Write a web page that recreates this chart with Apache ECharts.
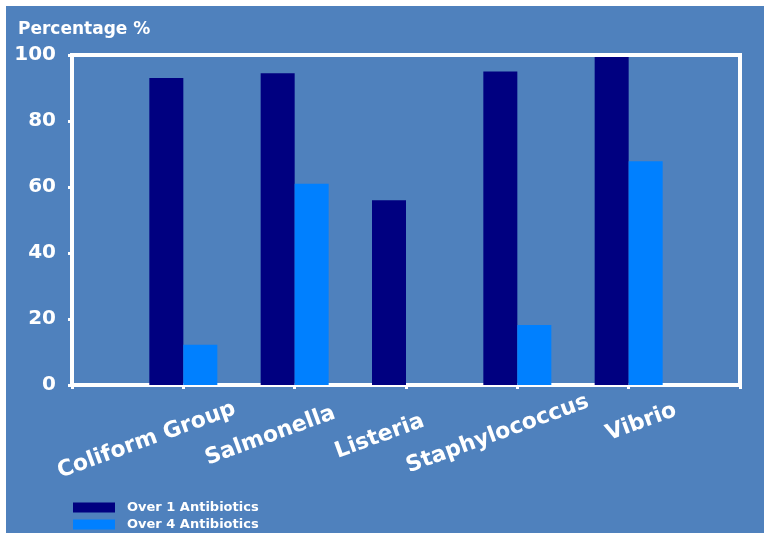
<!DOCTYPE html>
<html>
<head>
<meta charset="utf-8">
<script src="https://cdn.jsdelivr.net/npm/echarts@6/dist/echarts.min.js"></script>
<style>
  html, body { margin: 0; padding: 0; background: #ffffff; }
  #chart { position: absolute; left: 6px; top: 6px; width: 758px; height: 527px; }
</style>
</head>
<body>
<div id="chart"></div>
<script>
// ----------------------Data----------------------
// empty slots at both ends so the groups sit on the inner ticks
let categories = ['', 'Coliform Group', 'Salmonella', 'Listeria', 'Staphylococcus', 'Vibrio', ''];
let over1 = [null, 93, 94.5, 56, 95, 99.4, null];
let over4 = [null, 12.2, 61, 0, 18.2, 67.8, null];
let seriesNames = ['Over 1 Antibiotics', 'Over 4 Antibiotics'];
let yTicks = [0, 20, 40, 60, 80, 100];

// ---------------------Style----------------------
let bg_color = '#4f81bd';
let font_family = '"DejaVu Sans", Verdana, sans-serif';

// the original labels are not placed evenly, nudge each one [top, right, bottom, left]
let label_padding = {
    'Coliform Group': [0, 78, 0, 0],
    'Salmonella': [0, 52, 0, 0],
    'Listeria': [0, 56, 0, 0],
    'Staphylococcus': [16, 42, 0, 0],
    'Vibrio': [0, 0, 0, 27]
};
let x_axis_data = categories.map(function (c) {
    if (label_padding[c]) {
        return {
            value: c,
            textStyle: {padding: label_padding[c], align: 'center', verticalAlign: 'middle'}
        };
    }
    return c;
});

let chart = echarts.init(document.getElementById('chart'));

let option = {
    backgroundColor: bg_color,
    animation: false,
    title: {
        text: 'Percentage %',
        left: 12,
        top: 15,
        padding: 0,
        textStyle: {color: '#fff', fontSize: 17, fontWeight: 'bold', fontFamily: font_family}
    },
    legend: {
        orient: 'vertical',
        left: 67,
        top: 495,
        padding: 0,
        itemWidth: 42,
        itemHeight: 10,
        itemGap: 4,
        icon: 'rect',
        data: seriesNames,
        textStyle: {color: '#fff', fontSize: 13, fontWeight: 'bold', fontFamily: font_family, padding: [0, 0, 0, 7], lineHeight: 13}
    },
    grid: {
        left: 66,
        top: 49,
        right: 24,
        bottom: 148,
        outerBoundsMode: 'none',
        containLabel: false,
        show: true,
        backgroundColor: bg_color,
        borderColor: '#fff',
        borderWidth: 4
    },
    xAxis: {
        type: 'category',
        data: x_axis_data,
        boundaryGap: false,
        axisLine: {lineStyle: {color: '#fff', width: 4}},
        axisTick: {show: true, length: 4, lineStyle: {color: '#fff', width: 3}},
        axisLabel: {
            interval: 0,
            rotate: 20,
            align: 'center',
            verticalAlign: 'middle',
            margin: 42,
            color: '#fff',
            fontSize: 22,
            fontWeight: 'bold',
            fontFamily: font_family
        },
        splitLine: {show: false}
    },
    yAxis: {
        type: 'value',
        min: yTicks[0],
        max: yTicks[yTicks.length - 1],
        interval: 20,
        axisLine: {show: true, lineStyle: {color: '#fff', width: 4}},
        axisTick: {show: true, length: 4, lineStyle: {color: '#fff', width: 3}},
        axisLabel: {
            margin: 16,
            color: '#fff',
            fontSize: 20,
            fontWeight: 'bold',
            fontFamily: font_family
        },
        splitLine: {show: false}
    },
    series: [
        {
            name: seriesNames[0],
            type: 'bar',
            data: over1,
            barWidth: 34,
            barGap: '0%',
            itemStyle: {color: '#000080'}
        },
        {
            name: seriesNames[1],
            type: 'bar',
            data: over4,
            barWidth: 34,
            barGap: '0%',
            itemStyle: {color: '#0080ff'}
        }
    ]
};
chart.setOption(option);
</script>
</body>
</html>
